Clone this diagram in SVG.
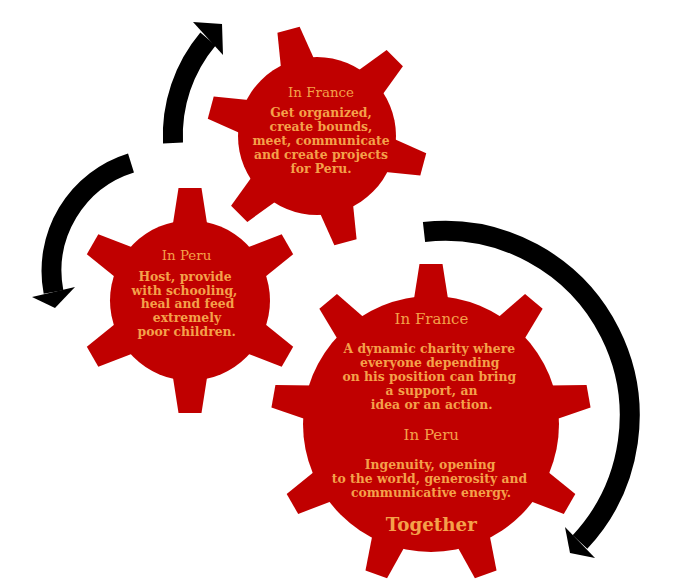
<svg xmlns="http://www.w3.org/2000/svg" xmlns:xlink="http://www.w3.org/1999/xlink" width="679" height="587" viewBox="0 0 679 587">
<style>
.gear{fill:#C00000}
.t{font-family:"DejaVu Serif","Liberation Serif",serif;fill:#F4A14A;text-anchor:middle}
.h{font-size:13.4px;font-weight:normal}
.hb{font-size:15px;font-weight:normal}
.b{font-size:12.4px;font-weight:bold}
.big{font-size:18.3px;font-weight:bold}
.arc{fill:none;stroke:#000;stroke-width:20;stroke-linecap:butt}
.head{fill:#000}
</style>
<defs>
<polygon id="toothS" points="73,-17.5 110,-11.5 110,11.5 73,17.5"/>
<polygon id="toothL" points="74,-17.5 112.5,-11.5 112.5,11.5 74,17.5"/>
<polygon id="toothB" points="122,-17.5 160,-11.5 160,11.5 122,17.5"/>
</defs>

<g id="connectors">
<path class="arc" d="M173,143 A150,150 0 0 1 208,39"/>
<polygon class="head" points="193,22 222,24 223,55"/>
<path class="arc" d="M131,163 A113,113 0 0 0 53.5,292"/>
<polygon class="head" points="32,297 55,308 75,287"/>
<path class="arc" d="M424,232 A185,185 0 0 1 580,542"/>
<polygon class="head" points="565,527 570,553 595,558"/>
</g>

<g id="gear-top">
<g class="gear" transform="translate(317,136)">
<circle r="79"/>
<use xlink:href="#toothS" transform="rotate(15)"/>
<use xlink:href="#toothS" transform="rotate(75)"/>
<use xlink:href="#toothS" transform="rotate(135)"/>
<use xlink:href="#toothS" transform="rotate(195)"/>
<use xlink:href="#toothS" transform="rotate(255)"/>
<use xlink:href="#toothS" transform="rotate(315)"/>
</g>
<text class="t h" x="321" y="97">In France</text>
<text class="t b" x="321" y="116.7">Get organized,</text>
<text class="t b" x="321" y="130.7">create bounds,</text>
<text class="t b" x="321" y="144.7">meet, communicate</text>
<text class="t b" x="321" y="158.7">and create projects</text>
<text class="t b" x="321" y="172.7">for Peru.</text>
</g>

<g id="gear-left">
<g class="gear" transform="translate(190,300.5)">
<circle r="80"/>
<use xlink:href="#toothL" transform="rotate(-90)"/>
<use xlink:href="#toothL" transform="rotate(-30)"/>
<use xlink:href="#toothL" transform="rotate(30)"/>
<use xlink:href="#toothL" transform="rotate(90)"/>
<use xlink:href="#toothL" transform="rotate(150)"/>
<use xlink:href="#toothL" transform="rotate(210)"/>
</g>
<text class="t h" x="186.5" y="260">In Peru</text>
<text class="t b" x="185" y="280.7">Host, provide</text>
<text class="t b" x="184.5" y="294.5">with schooling,</text>
<text class="t b" x="187.5" y="308.3">heal and feed</text>
<text class="t b" x="187" y="322.3">extremely</text>
<text class="t b" x="186.7" y="336.3">poor children.</text>
</g>

<g id="gear-big">
<g class="gear" transform="translate(431,424)">
<circle r="128"/>
<use xlink:href="#toothB" transform="rotate(-90)"/>
<use xlink:href="#toothB" transform="rotate(-50)"/>
<use xlink:href="#toothB" transform="rotate(-10)"/>
<use xlink:href="#toothB" transform="rotate(30)"/>
<use xlink:href="#toothB" transform="rotate(70)"/>
<use xlink:href="#toothB" transform="rotate(110)"/>
<use xlink:href="#toothB" transform="rotate(150)"/>
<use xlink:href="#toothB" transform="rotate(190)"/>
<use xlink:href="#toothB" transform="rotate(230)"/>
</g>
<text class="t hb" x="431.5" y="324.3">In France</text>
<text class="t b" x="429.3" y="352.7">A dynamic charity where</text>
<text class="t b" x="429.7" y="366.7">everyone depending</text>
<text class="t b" x="429.3" y="380.7">on his position can bring</text>
<text class="t b" x="431.5" y="394.7">a support, an</text>
<text class="t b" x="431.7" y="408.5">idea or an action.</text>
<text class="t hb" x="431.3" y="440.3">In Peru</text>
<text class="t b" x="430" y="469">Ingenuity, opening</text>
<text class="t b" x="429.5" y="483">to the world, generosity and</text>
<text class="t b" x="431" y="497">communicative energy.</text>
<text class="t big" x="431.3" y="530.7">Together</text>
</g>
</svg>
